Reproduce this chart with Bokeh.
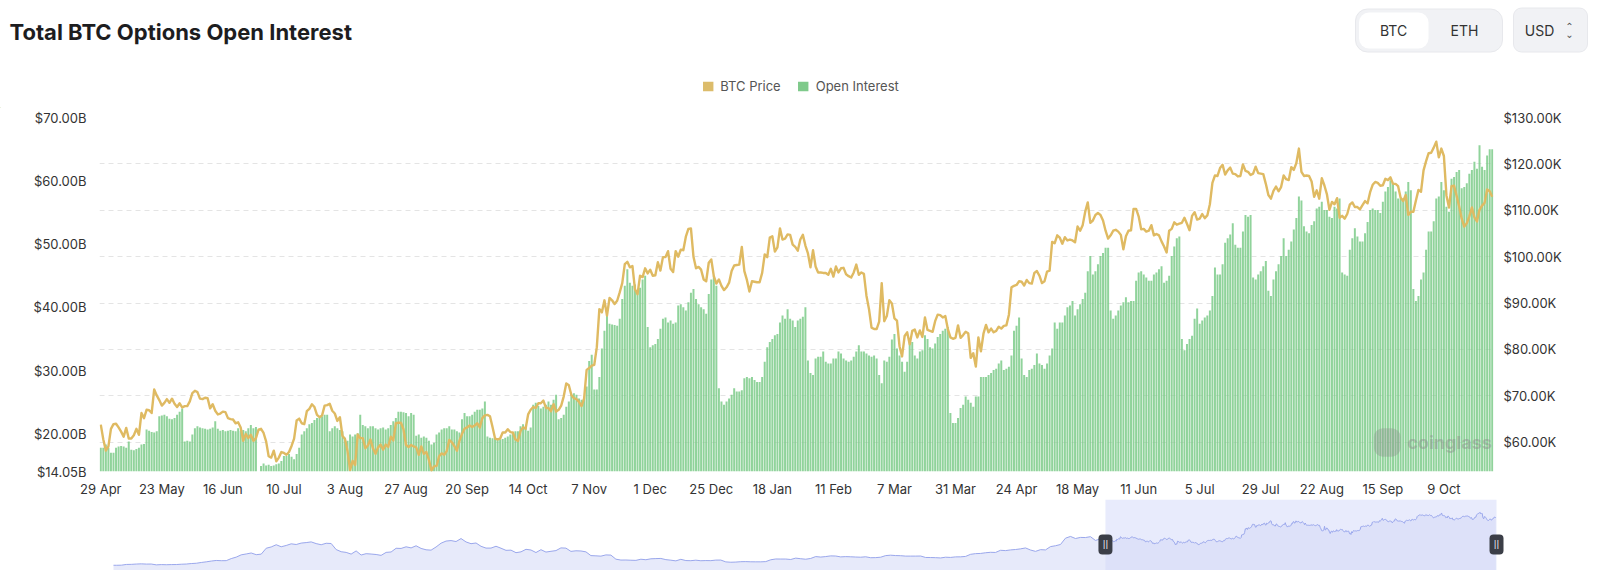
import pandas as pd
from bokeh.plotting import figure
from bokeh.models import (Range1d, LinearAxis, FixedTicker, PrintfTickFormatter, Grid, Label,
                          BoxAnnotation, Legend, LegendItem, ColumnDataSource)
from bokeh.embed import file_html
from bokeh.resources import INLINE

# ---------------- data ----------------
start_date = "2024-04-29"

# BTC price (thousand USD), daily
price_2024_04 = [63.8, 60.6]
price_2024_05 = [58.2, 59.1, 62.9, 63.9, 64.0, 63.2, 62.3, 61.2, 63.1, 60.8,
                 60.8, 61.5, 62.9, 61.6, 66.3, 65.2, 67.0, 66.9, 66.3, 71.4,
                 70.1, 69.1, 67.9, 68.5, 69.3, 68.5, 69.4, 68.3, 67.6, 68.4,
                 67.5]
price_2024_06 = [67.8, 67.8, 68.8, 70.6, 71.1, 70.8, 69.4, 69.3, 69.6, 69.5,
                 67.3, 68.2, 66.8, 66.0, 66.2, 66.6, 66.5, 65.2, 65.0, 64.9,
                 64.1, 64.3, 63.2, 60.3, 61.8, 60.9, 61.6, 60.3, 60.9, 62.7]
price_2024_07 = [62.9, 62.0, 60.2, 57.0, 56.7, 58.2, 55.9, 56.7, 57.9, 57.7,
                 57.3, 57.9, 59.2, 60.8, 64.7, 65.1, 64.1, 63.9, 66.7, 67.2,
                 68.2, 67.6, 65.9, 65.4, 65.8, 67.9, 68.0, 68.3, 66.8, 66.2,
                 64.6]
price_2024_08 = [65.4, 61.4, 60.7, 58.1, 54.0, 56.0, 55.1, 61.7, 60.9, 60.9,
                 58.7, 59.3, 60.6, 58.7, 57.5, 58.9, 59.5, 58.4, 59.5, 59.0,
                 61.2, 60.4, 64.1, 64.2, 64.2, 62.8, 59.4, 59.0, 59.4, 59.1,
                 58.9]
price_2024_09 = [57.3, 59.1, 57.5, 57.9, 56.2, 53.9, 54.8, 54.9, 57.0, 57.6,
                 57.3, 58.1, 60.5, 60.0, 59.2, 58.2, 60.3, 61.8, 62.9, 63.2,
                 63.6, 63.3, 63.6, 64.1, 63.2, 65.2, 65.8, 65.9, 65.6, 63.3]
price_2024_10 = [60.8, 60.6, 60.8, 62.1, 62.1, 62.8, 62.2, 62.1, 60.6, 60.3,
                 62.4, 63.2, 62.9, 66.0, 67.0, 67.6, 67.4, 68.4, 68.4, 69.0,
                 67.4, 67.4, 66.7, 68.2, 66.6, 67.0, 67.9, 69.9, 72.7, 72.3,
                 70.2]
price_2024_11 = [69.5, 69.3, 68.7, 67.8, 69.4, 75.6, 76.0, 76.5, 76.7, 80.5,
                 88.7, 88.0, 90.6, 87.3, 91.1, 90.6, 89.8, 90.5, 92.3, 94.3,
                 98.4, 98.9, 97.7, 98.0, 93.0, 91.9, 95.9, 95.6, 97.5, 96.4]
price_2024_12 = [97.2, 95.9, 96.0, 98.8, 97.0, 99.9, 99.9, 101.2, 97.4, 96.7,
                 101.2, 100.0, 101.5, 101.4, 104.3, 106.0, 106.1, 100.0, 97.5, 97.8,
                 97.2, 95.1, 94.7, 98.7, 99.4, 95.8, 94.2, 95.1, 93.7, 92.8,
                 93.4]
price_2025_01 = [94.4, 96.9, 98.1, 98.2, 98.3, 102.1, 96.9, 95.0, 92.5, 94.7,
                 94.6, 94.5, 94.5, 96.5, 100.5, 99.9, 104.1, 104.4, 101.1, 102.0,
                 106.1, 103.7, 103.9, 104.8, 104.7, 102.6, 102.1, 101.3, 103.7, 104.7,
                 102.4]
price_2025_02 = [100.7, 97.7, 101.4, 97.9, 96.6, 96.6, 96.5, 96.5, 96.1, 97.4,
                 95.7, 97.9, 96.6, 97.5, 97.6, 96.2, 95.8, 95.5, 96.6, 98.3,
                 96.1, 96.6, 96.3, 91.6, 88.7, 84.7, 84.4, 84.4]
price_2025_03 = [86.0, 94.3, 86.1, 87.2, 90.6, 89.9, 86.7, 86.2, 80.7, 78.5,
                 82.9, 83.7, 81.1, 84.0, 84.3, 82.6, 84.1, 82.7, 86.9, 84.2,
                 84.0, 83.8, 86.1, 87.5, 87.4, 86.9, 87.2, 84.4, 82.6, 82.3,
                 82.5]
price_2025_04 = [85.2, 82.5, 83.1, 83.8, 83.5, 78.2, 79.2, 76.3, 82.6, 79.6,
                 83.4, 85.3, 83.7, 84.5, 83.7, 84.0, 84.9, 84.5, 85.1, 85.2,
                 87.5, 93.4, 93.7, 93.9, 94.7, 94.6, 93.8, 95.0, 94.3, 94.2]
price_2025_05 = [96.5, 96.9, 95.9, 94.3, 94.7, 96.8, 97.0, 103.2, 102.9, 104.6,
                 104.1, 102.8, 104.2, 103.5, 103.7, 103.5, 103.1, 106.5, 105.6, 106.8,
                 109.7, 111.7, 107.3, 107.8, 109.0, 109.4, 109.0, 107.8, 105.6, 103.9,
                 104.6]
price_2025_06 = [105.6, 105.8, 105.4, 104.7, 101.6, 104.4, 105.6, 105.7, 110.3, 110.3,
                 108.7, 105.9, 106.0, 105.4, 105.6, 106.8, 104.6, 104.9, 104.6, 103.3,
                 102.2, 100.9, 105.6, 106.0, 107.4, 106.9, 107.1, 107.3, 108.4, 107.1]
price_2025_07 = [105.7, 108.8, 109.6, 108.0, 108.2, 109.2, 108.3, 108.9, 111.3, 115.9,
                 117.5, 117.4, 119.1, 119.8, 117.7, 118.6, 119.2, 117.9, 117.8, 117.3,
                 117.4, 119.9, 118.5, 118.3, 117.6, 117.9, 119.4, 118.0, 117.9, 117.8,
                 115.7]
price_2025_08 = [113.3, 112.5, 114.2, 115.1, 114.1, 115.0, 117.5, 116.7, 116.5, 119.3,
                 118.7, 120.2, 123.3, 118.3, 117.4, 117.5, 117.4, 116.2, 112.9, 114.3,
                 112.5, 116.9, 115.4, 113.5, 110.1, 111.8, 111.3, 112.6, 108.4, 108.8,
                 108.2]
price_2025_09 = [109.2, 111.2, 111.7, 110.7, 110.7, 110.2, 111.1, 112.0, 111.5, 113.9,
                 115.5, 116.1, 115.9, 115.3, 115.4, 116.8, 116.5, 117.1, 115.7, 115.7,
                 115.2, 112.7, 112.0, 113.3, 109.0, 109.7, 109.7, 112.1, 114.4, 114.0]
price_2025_10 = [118.6, 120.6, 122.3, 122.4, 123.5, 124.8, 121.4, 123.3, 121.7, 113.2,
                 110.6, 115.2, 115.3, 113.1, 110.8, 108.2, 106.5, 107.2, 108.7, 110.6,
                 108.5, 107.6, 110.1, 111.0, 111.6, 114.5, 114.1, 112.9]

# Options open interest (billion USD), daily
oi_2024_04 = [17.8, 17.8]
oi_2024_05 = [18.3, 17.8, 17.0, 17.0, 17.8, 18.0, 18.1, 18.0, 17.8, 18.8,
              17.5, 17.4, 17.6, 17.8, 18.3, 18.4, 20.7, 20.5, 20.3, 20.2,
              20.4, 22.8, 22.9, 23.0, 22.8, 22.4, 22.3, 22.5, 23.0, 23.5,
              24.0]
oi_2024_06 = [18.8, 18.9, 18.8, 19.9, 20.9, 21.2, 21.0, 20.9, 20.8, 20.7,
              20.8, 21.0, 22.0, 20.8, 20.5, 20.6, 20.4, 20.5, 20.6, 20.5,
              20.4, 20.9, 20.5, 20.6, 20.4, 20.9, 21.4, 20.9, 21.1, 14.05]
oi_2024_07 = [14.9, 15.3, 15.0, 15.1, 14.9, 15.0, 15.2, 15.3, 15.7, 16.5,
              16.5, 16.8, 16.4, 16.0, 16.8, 17.8, 19.9, 20.4, 20.9, 21.5,
              21.7, 22.2, 22.5, 22.5, 22.8, 23.0, 23.0, 20.4, 20.9, 21.2,
              20.9]
oi_2024_08 = [20.6, 20.4, 19.4, 18.9, 19.9, 19.6, 19.9, 20.1, 23.0, 21.4,
              21.2, 20.9, 21.2, 21.2, 20.9, 20.7, 20.9, 21.0, 20.7, 20.9,
              21.4, 22.0, 22.5, 23.5, 23.5, 23.4, 23.3, 22.8, 23.3, 23.0,
              19.7]
oi_2024_09 = [19.9, 19.4, 19.6, 19.4, 18.9, 18.3, 18.6, 19.9, 20.2, 20.7,
              20.9, 20.9, 21.2, 20.7, 20.7, 20.4, 20.2, 22.3, 23.3, 22.8,
              22.8, 23.0, 23.5, 23.8, 23.8, 24.0, 25.1, 19.6, 19.4, 19.3]
oi_2024_10 = [19.3, 19.1, 19.1, 19.2, 19.4, 19.6, 19.9, 20.2, 20.4, 20.4,
              21.2, 21.5, 21.0, 20.5, 21.0, 24.6, 24.9, 24.4, 24.0, 24.3,
              24.6, 25.1, 24.6, 25.4, 26.2, 22.3, 22.5, 23.0, 24.3, 25.1,
              26.2]
oi_2024_11 = [26.4, 26.2, 25.6, 25.4, 25.5, 27.5, 31.5, 32.5, 27.0, 27.0,
              29.0, 33.5, 36.3, 38.7, 37.4, 37.3, 37.2, 37.1, 38.2, 41.3,
              43.4, 46.0, 43.9, 43.4, 43.6, 42.3, 43.1, 44.4, 45.0, 36.9]
oi_2024_12 = [33.7, 34.0, 34.2, 35.0, 36.6, 38.2, 38.4, 37.6, 37.9, 37.4,
              37.6, 40.3, 40.5, 40.0, 39.5, 40.8, 42.3, 42.9, 41.3, 40.5,
              40.0, 39.7, 39.0, 42.1, 44.4, 45.0, 43.4, 27.2, 25.1, 24.6,
              25.1]
oi_2025_01 = [25.6, 26.2, 27.2, 26.7, 26.7, 26.9, 28.8, 29.0, 28.8, 29.0,
              28.5, 28.2, 28.2, 29.0, 31.4, 33.7, 34.5, 35.0, 35.6, 35.8,
              37.6, 38.7, 38.2, 39.7, 38.2, 37.9, 36.9, 37.9, 38.2, 38.5,
              40.0]
oi_2025_02 = [31.6, 29.6, 29.3, 31.9, 32.2, 32.2, 33.0, 31.4, 31.1, 31.1,
              31.9, 31.9, 33.0, 32.7, 31.9, 31.6, 31.4, 31.6, 32.2, 33.0,
              34.0, 33.0, 33.0, 32.7, 32.4, 32.2, 32.4, 31.9]
oi_2025_03 = [29.3, 28.0, 31.6, 31.4, 32.2, 34.9, 35.8, 33.5, 32.4, 31.4,
              29.8, 31.4, 34.5, 34.5, 32.4, 31.9, 33.0, 33.2, 35.6, 35.0,
              33.7, 33.5, 34.3, 35.3, 35.8, 36.3, 36.6, 36.9, 23.3, 21.7,
              21.7]
oi_2025_04 = [22.5, 24.1, 24.6, 25.9, 25.4, 24.9, 24.3, 25.9, 25.9, 29.0,
              29.0, 29.0, 29.3, 29.6, 30.1, 30.3, 31.1, 31.6, 30.1, 30.3,
              30.6, 32.4, 36.3, 37.1, 38.4, 31.9, 29.3, 29.0, 30.1, 30.3]
oi_2025_05 = [30.9, 32.7, 31.1, 30.9, 30.3, 31.1, 32.4, 33.5, 37.6, 36.6,
              37.6, 37.6, 38.7, 40.0, 40.3, 41.0, 38.7, 39.7, 40.5, 41.3,
              42.3, 45.7, 48.1, 45.2, 45.7, 46.8, 48.1, 48.6, 49.4, 49.4,
              39.5]
oi_2025_06 = [38.2, 38.7, 39.5, 40.3, 40.8, 41.6, 40.8, 41.0, 41.0, 44.2,
              45.5, 45.7, 45.2, 44.7, 44.2, 44.2, 45.2, 45.5, 46.0, 46.5,
              43.9, 44.2, 45.0, 48.1, 49.6, 50.9, 51.2, 35.0, 33.2, 34.2]
oi_2025_07 = [35.0, 35.5, 38.2, 39.8, 37.4, 37.9, 38.4, 38.7, 39.5, 41.8,
              46.3, 45.2, 45.2, 46.8, 50.2, 50.9, 51.5, 53.3, 49.9, 49.4,
              49.4, 52.0, 54.6, 54.3, 54.6, 44.7, 44.4, 45.2, 45.7, 46.5,
              47.3]
oi_2025_08 = [42.6, 41.8, 44.4, 45.7, 46.8, 48.1, 50.9, 48.1, 49.1, 50.4,
              52.3, 54.1, 57.5, 56.9, 52.8, 52.0, 51.7, 53.0, 53.6, 55.6,
              55.9, 56.7, 55.4, 55.4, 54.3, 54.1, 55.9, 55.6, 57.2, 45.5,
              45.2]
oi_2025_09 = [45.0, 49.1, 50.9, 52.5, 51.2, 50.4, 50.4, 51.7, 53.5, 55.4,
              55.6, 55.4, 55.4, 54.9, 56.7, 58.3, 59.0, 60.1, 59.6, 58.3,
              57.2, 57.2, 57.2, 58.3, 59.8, 58.5, 42.9, 41.0, 41.8, 44.4]
oi_2025_10 = [45.5, 49.1, 52.0, 52.0, 53.6, 57.2, 57.5, 59.8, 58.5, 55.9,
              55.1, 60.3, 60.6, 61.4, 61.7, 58.8, 59.0, 59.6, 61.1, 61.7,
              63.0, 61.9, 65.6, 62.2, 61.7, 64.0, 65.0, 65.0]

# navigator history: weekly BTC price (thousand USD) from 2020-07-06
nav_start = "2020-07-06"
nav_price_2020 = [9.3, 9.2, 9.4, 11.0, 11.2, 11.9, 12.3, 11.8, 11.9, 10.1, 10.7, 10.4, 10.7,
                  10.8, 11.5, 11.9, 13.0, 13.6, 15.3, 16.7, 18.4, 19.7, 19.2, 19.3, 23.8, 27.0]
nav_price_2021 = [32.0, 33.9, 36.0, 32.3, 33.5, 46.4, 49.2, 54.0, 49.6, 52.4,
                  56.0, 54.5, 57.6, 58.7, 60.2, 56.5, 54.0, 57.2, 56.7, 43.5,
                  38.8, 37.3, 33.6, 40.5, 31.6, 34.5, 33.7, 32.7, 30.8, 37.3,
                  38.2, 46.3, 45.9, 49.5, 47.1, 51.7, 46.0, 43.0, 42.2, 49.1,
                  57.4, 62.0, 63.1, 61.0, 67.5, 60.1, 56.3, 57.8, 50.6, 46.7,
                  46.7, 50.7]
nav_price_2022 = [46.4, 41.8, 42.2, 36.7, 38.5, 44.0, 42.5, 37.0, 43.2, 38.0,
                  39.7, 41.2, 47.1, 46.6, 39.5, 40.8, 40.4, 38.5, 30.3, 29.8,
                  29.1, 31.8, 31.4, 22.5, 20.6, 20.7, 20.2, 19.9, 22.4, 21.3,
                  23.3, 23.8, 24.1, 21.5, 20.3, 18.8, 22.2, 19.5, 19.2, 20.3,
                  19.1, 19.5, 19.3, 20.5, 20.6, 16.6, 15.8, 16.2, 17.0, 17.2,
                  16.8, 16.7]
nav_price_2023 = [16.7, 17.2, 21.2, 22.9, 22.8, 22.8, 21.8, 24.8, 23.5, 22.4,
                  24.1, 28.2, 27.1, 28.2, 29.7, 29.4, 27.5, 28.1, 27.7, 27.2,
                  26.8, 27.7, 25.7, 25.9, 26.8, 30.3, 31.2, 30.4, 30.1, 29.2,
                  29.2, 29.2, 29.4, 26.2, 26.1, 25.8, 25.2, 26.8, 26.3, 27.5,
                  27.6, 28.5, 33.1, 34.6, 35.0, 36.5, 37.5, 37.2, 41.9, 41.2,
                  42.7, 43.6]
nav_price_2024 = [45.0, 47.0, 42.5, 39.5, 43.3, 42.7, 49.9, 51.8, 54.5, 68.3,
                  72.1, 67.6, 70.0, 69.7, 71.6, 63.4, 66.8]

x_tick_labels = ["29 Apr", "23 May", "16 Jun", "10 Jul", "3 Aug", "27 Aug", "20 Sep",
                 "14 Oct", "7 Nov", "1 Dec", "25 Dec", "18 Jan", "11 Feb", "7 Mar",
                 "31 Mar", "24 Apr", "18 May", "11 Jun", "5 Jul", "29 Jul", "22 Aug",
                 "15 Sep", "9 Oct"]
oi_ticks = [14.05, 20, 30, 40, 50, 60, 70]
price_ticks = [60, 70, 80, 90, 100, 110, 120, 130]
oi_axis_range = (14.05, 70)
price_axis_range = (53.7, 130)

# ---------------- assemble ----------------
price = (price_2024_04 + price_2024_05 + price_2024_06 + price_2024_07 + price_2024_08 +
         price_2024_09 + price_2024_10 + price_2024_11 + price_2024_12 + price_2025_01 +
         price_2025_02 + price_2025_03 + price_2025_04 + price_2025_05 + price_2025_06 +
         price_2025_07 + price_2025_08 + price_2025_09 + price_2025_10)
oi = (oi_2024_04 + oi_2024_05 + oi_2024_06 + oi_2024_07 + oi_2024_08 + oi_2024_09 +
      oi_2024_10 + oi_2024_11 + oi_2024_12 + oi_2025_01 + oi_2025_02 + oi_2025_03 +
      oi_2025_04 + oi_2025_05 + oi_2025_06 + oi_2025_07 + oi_2025_08 + oi_2025_09 +
      oi_2025_10)
n = min(len(price), len(oi))
price = price[:n]
oi = oi[:n]
idx = list(range(n))
tick_idx = list(range(0, n, 24))[:len(x_tick_labels)]

nav_hist = nav_price_2020 + nav_price_2021 + nav_price_2022 + nav_price_2023 + nav_price_2024
nav_days = list((pd.date_range(nav_start, periods=len(nav_hist), freq="7D")
                 - pd.Timestamp(start_date)).days)
nav_x = nav_days + idx
nav_y = nav_hist + price

src = ColumnDataSource(dict(i=idx, oi=oi, price=price))
nav_src = ColumnDataSource(dict(x=nav_x, y=nav_y))

GOLD = "#dfba62"
GREEN = "#7ccb8a"
FONT = "Inter"
W = 1600

# ---------------- header (title, buttons, legend) ----------------
HH = 108
header = figure(width=W, height=HH, x_range=Range1d(0, W), y_range=Range1d(0, HH),
                output_backend="svg", toolbar_location=None, min_border=0,
                x_axis_location=None, y_axis_location=None)
header.grid.visible = False
header.outline_line_color = None


def hy(page_y):
    return HH - page_y


header.add_layout(Label(x=9, y=hy(31), text="Total BTC Options Open Interest", text_font=FONT,
                        text_font_style="bold", text_font_size="22px", text_color="#1d1d1f",
                        text_baseline="middle"))
header.add_layout(BoxAnnotation(left=1355, right=1502, top=hy(8.5), bottom=hy(51.5),
                                fill_color="#f1f2f5", fill_alpha=1, line_color="#e7e8ec",
                                line_alpha=1, border_radius=12))
header.add_layout(BoxAnnotation(left=1358.5, right=1428, top=hy(12), bottom=hy(48),
                                fill_color="#ffffff", fill_alpha=1, line_color=None,
                                border_radius=10))
header.add_layout(BoxAnnotation(left=1513, right=1587, top=hy(7.5), bottom=hy(51.5),
                                fill_color="#f1f2f5", fill_alpha=1, line_color="#e7e8ec",
                                line_alpha=1, border_radius=8))
for txt, cx in (("BTC", 1393), ("ETH", 1464), ("USD", 1539)):
    header.add_layout(Label(x=cx, y=hy(30), text=txt, text_font=FONT, text_font_size="14px",
                            text_color="#333333", text_align="center", text_baseline="middle"))
header.add_layout(Label(x=1569, y=hy(25.5), text="⌃", text_font="DejaVu Sans", text_font_size="10px",
                        text_color="#555555", text_align="center", text_baseline="middle"))
header.add_layout(Label(x=1569, y=hy(34), text="⌄", text_font="DejaVu Sans", text_font_size="10px",
                        text_color="#555555", text_align="center", text_baseline="middle"))

# legend swatches (one off-screen point each so the legend glyph is drawn)
r_leg_price = header.vbar(x=[-500], top=[1], width=1, fill_color="#dcbc6b", line_color=None)
r_leg_oi = header.vbar(x=[-500], top=[1], width=1, fill_color="#7fca8b", line_color=None)
legend = Legend(items=[LegendItem(label="BTC Price", renderers=[r_leg_price]),
                       LegendItem(label="Open Interest", renderers=[r_leg_oi])],
                location="top_center", orientation="horizontal", margin=78, padding=0,
                glyph_width=13, glyph_height=12, label_height=12, label_standoff=6, spacing=16,
                border_line_color=None, background_fill_alpha=0,
                label_text_font=FONT, label_text_font_size="13px", label_text_color="#555555")
header.add_layout(legend)

# ---------------- main chart ----------------
p = figure(width=W, height=391, x_range=Range1d(-0.5, n - 0.5),
           y_range=Range1d(*oi_axis_range), output_backend="svg", toolbar_location=None,
           min_border_left=99, min_border_right=107, min_border_top=9, min_border_bottom=26)
p.outline_line_color = None
p.xgrid.visible = False
p.ygrid.visible = False
p.extra_y_ranges = {"price": Range1d(*price_axis_range)}

p.add_layout(Grid(dimension=1, ticker=FixedTicker(ticks=price_ticks), y_range_name="price",
                  grid_line_color="#e4e4e4", grid_line_dash="5 4", grid_line_width=1))

p.vbar(x="i", top="oi", bottom=0, width=0.78, source=src, fill_color=GREEN,
       fill_alpha=0.85, line_color=None)
p.line(x="i", y="price", source=src, y_range_name="price", line_color=GOLD,
       line_width=2.4, line_join="round")


def style_axis(ax, standoff):
    ax.axis_line_color = None
    ax.major_tick_line_color = None
    ax.minor_tick_line_color = None
    ax.major_tick_out = 0
    ax.major_tick_in = 0
    ax.minor_tick_out = 0
    ax.major_label_text_font = FONT
    ax.major_label_text_font_size = "13px"
    ax.major_label_text_color = "#333333"
    ax.major_label_standoff = standoff


xa = p.xaxis[0]
xa.ticker = FixedTicker(ticks=tick_idx)
xa.major_label_overrides = {t: lab for t, lab in zip(tick_idx, x_tick_labels)}
style_axis(xa, 9)

ya = p.yaxis[0]
ya.ticker = FixedTicker(ticks=oi_ticks)
ya.formatter = PrintfTickFormatter(format="$%.2fB")
style_axis(ya, 13)

ra = LinearAxis(y_range_name="price", ticker=FixedTicker(ticks=price_ticks),
                formatter=PrintfTickFormatter(format="$%.2fK"))
style_axis(ra, 10)
p.add_layout(ra, "right")

# watermark: logo blob + word mark
p.add_layout(BoxAnnotation(left=500.5, right=511.0, top=20.9, bottom=16.4,
                           fill_color="#8a8a8a", fill_alpha=0.35, line_color=None,
                           border_radius=9))
p.add_layout(Label(x=513.6, y=18.6, text="coinglass", text_font=FONT, text_font_style="bold",
                   text_font_size="18px", text_color="#8a8a8a", text_alpha=0.45,
                   text_baseline="middle"))

# ---------------- navigator ----------------
nav = figure(width=W, height=71, x_range=Range1d(-1390, n + 14), y_range=Range1d(-2.2, 152.7),
             output_backend="svg", toolbar_location=None,
             min_border_left=113, min_border_right=94, min_border_top=0, min_border_bottom=0,
             x_axis_location=None, y_axis_location=None)
nav.grid.visible = False
nav.outline_line_color = None
nav.add_layout(BoxAnnotation(left=0, right=n, fill_color="#e8ebfc", fill_alpha=1,
                             line_color=None, level="underlay"))
nav.varea(x="x", y1=-2.2, y2="y", source=nav_src, fill_color="#d3d9f5", fill_alpha=0.55)
nav.line(x="x", y="y", source=nav_src, line_color="#9aa7ec", line_width=1)
for hx in (0, n):
    nav.add_layout(BoxAnnotation(left=hx - 9.8, right=hx + 9.8, top=76.3, bottom=32.7,
                                 fill_color="#3b3e47", fill_alpha=1, line_color=None,
                                 border_radius=4))
    nav.add_layout(Label(x=hx, y=54.5, text="||", text_font="DejaVu Sans", text_font_size="8px",
                         text_color="#ffffff", text_align="center", text_baseline="middle"))

open("out.html", "w").write(file_html([header, p, nav], INLINE))
